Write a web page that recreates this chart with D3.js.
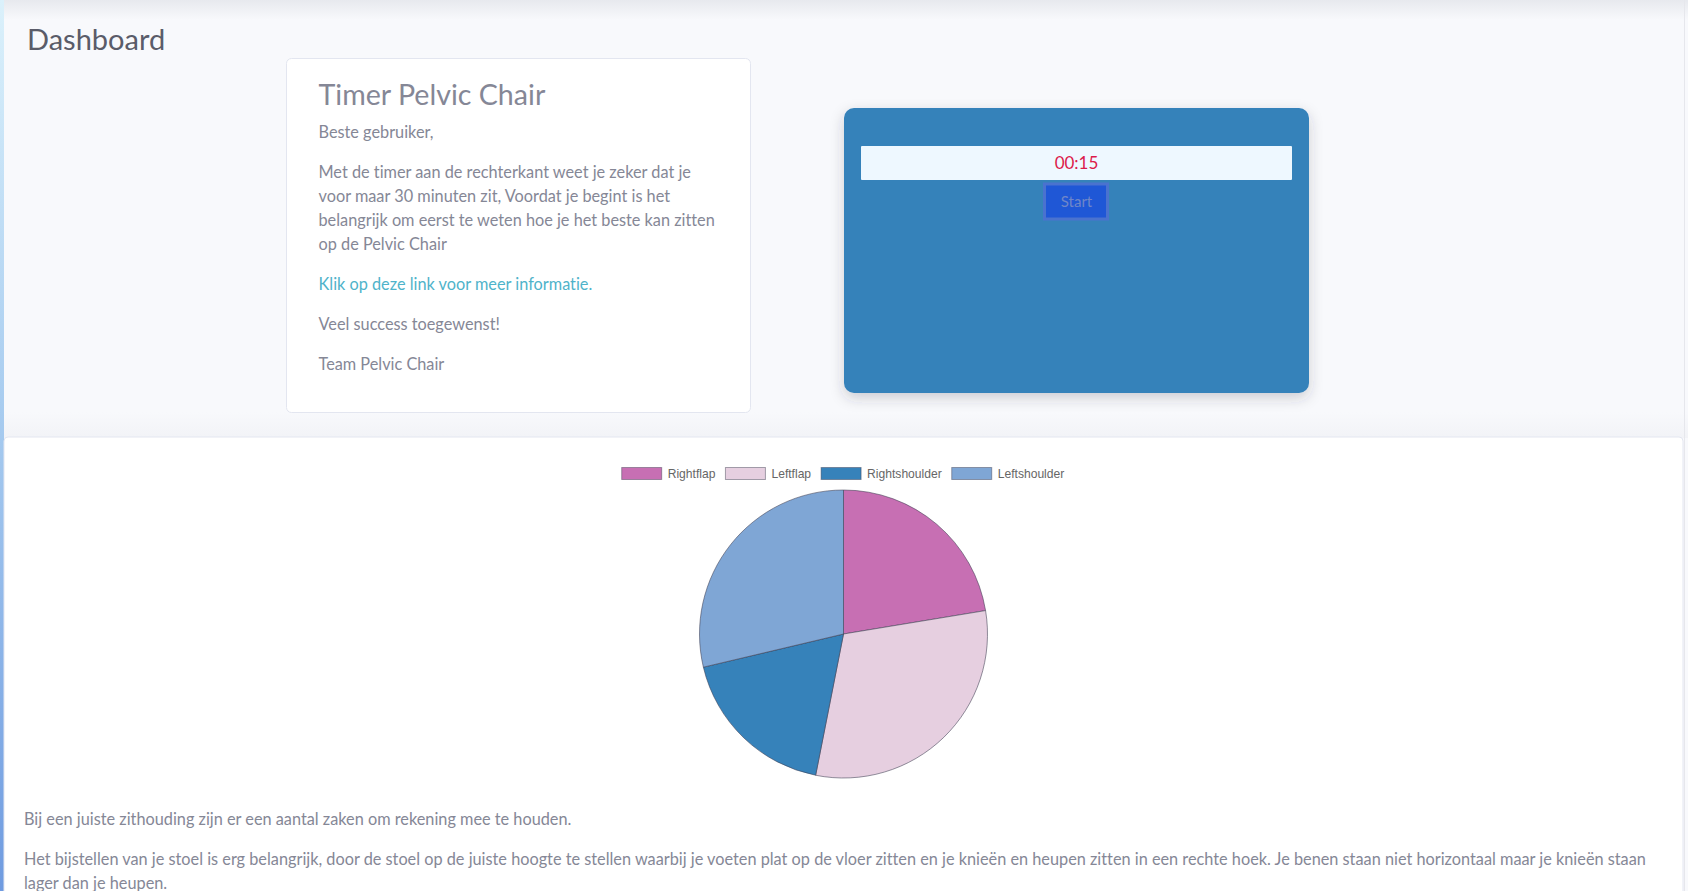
<!DOCTYPE html>
<html>
<head>
<meta charset="utf-8">
<title>Dashboard</title>
<script src="https://cdn.jsdelivr.net/npm/d3@7"></script>
<style>
html, body { margin: 0; padding: 0; background: #f8f9fc; overflow: hidden; }
svg { display: block; }
text { font-variant-ligatures: none; }
.tekst { font-family: Lato, "Noto Sans", sans-serif; font-size: 16.3px; fill: #858796; }
.kop { font-family: Lato, "Noto Sans", sans-serif; }
.legenda { font-family: "Liberation Sans", Arial, sans-serif; font-size: 12.1px; fill: #666; }
</style>
</head>
<body>
<script>
var categorieen = ["Rightflap", "Leftflap", "Rightshoulder", "Leftshoulder"];
var waarden = [22.4, 30.7, 18.2, 28.7];
var kleuren = ["#c76fb3", "#e6cfe0", "#3682ba", "#7fa6d5"];

var introRegels = [
	"Beste gebruiker,",
	"Met de timer aan de rechterkant weet je zeker dat je",
	"voor maar 30 minuten zit, Voordat je begint is het",
	"belangrijk om eerst te weten hoe je het beste kan zitten",
	"op de Pelvic Chair"
];
var slotRegels = ["Veel success toegewenst!", "Team Pelvic Chair"];
var onderRegels = [
	"Bij een juiste zithouding zijn er een aantal zaken om rekening mee te houden.",
	"Het bijstellen van je stoel is erg belangrijk, door de stoel op de juiste hoogte te stellen waarbij je voeten plat op de vloer zitten en je knieën en heupen zitten in een rechte hoek. Je benen staan niet horizontaal maar je knieën staan",
	"lager dan je heupen."
];

var breedte = 1688, hoogte = 891;
var svg = d3.select("body").append("svg").attr("width", breedte).attr("height", hoogte);
var defs = svg.append("defs");

function verloop(id, vertical, stops)
{
	var g = defs.append("linearGradient").attr("id", id)
		.attr("x1", 0).attr("y1", 0).attr("x2", vertical ? 0 : 1).attr("y2", vertical ? 1 : 0);
	stops.forEach(function(s) {
		g.append("stop").attr("offset", s[0]).attr("stop-color", s[1]);
	});
}

verloop("zijbalk", true, [[0, "#dbf1fb"], [0.45, "#a9cdf0"], [1, "#6f9be0"]]);
verloop("bovenrand", true, [[0, "#e7e9ee"], [1, "#f8f9fc"]]);
verloop("kaartrand", true, [[0, "#f8f9fc"], [1, "#f2f3f7"]]);

var schaduw = defs.append("filter").attr("id", "schaduw")
	.attr("x", "-10%").attr("y", "-10%").attr("width", "120%").attr("height", "125%");
schaduw.append("feDropShadow").attr("dx", 0).attr("dy", 5).attr("stdDeviation", 7)
	.attr("flood-color", "#3a3b45").attr("flood-opacity", 0.22);

// achtergrond
svg.append("rect").attr("width", breedte).attr("height", 20).attr("fill", "url(#bovenrand)");
svg.append("rect").attr("y", 412).attr("width", breedte).attr("height", 26).attr("fill", "url(#kaartrand)");
svg.append("rect").attr("width", 4).attr("height", hoogte).attr("fill", "url(#zijbalk)");

svg.append("text").attr("class", "kop").attr("x", 27).attr("y", 50)
	.style("font-size", "29px").style("fill", "#5a5c69").text("Dashboard");

// kaart met de tekst
svg.append("rect").attr("x", 286.5).attr("y", 58.5).attr("width", 464).attr("height", 354).attr("rx", 5)
	.attr("fill", "#fff").attr("stroke", "#e3e6f0");

svg.append("text").attr("class", "kop").attr("x", 318.5).attr("y", 105)
	.style("font-size", "28.6px").style("fill", "#858796").text("Timer Pelvic Chair");

var introY = [138, 178, 202, 226, 250];
svg.selectAll("text.intro").data(introRegels).enter().append("text")
	.attr("class", "tekst intro").attr("x", 318.5)
	.attr("y", function(d, i) { return introY[i]; })
	.text(function(d) { return d; });

svg.append("text").attr("class", "tekst").attr("x", 318.5).attr("y", 290)
	.style("fill", "#4fb3ca").text("Klik op deze link voor meer informatie.");

svg.selectAll("text.slot").data(slotRegels).enter().append("text")
	.attr("class", "tekst slot").attr("x", 318.5)
	.attr("y", function(d, i) { return 330 + i * 40; })
	.text(function(d) { return d; });

// timer
svg.append("rect").attr("x", 844).attr("y", 108).attr("width", 465).attr("height", 285).attr("rx", 10)
	.attr("fill", "#3682ba").attr("filter", "url(#schaduw)");
svg.append("rect").attr("x", 861).attr("y", 146).attr("width", 431).attr("height", 34).attr("rx", 1)
	.attr("fill", "#eef8ff");
svg.append("text").attr("class", "tekst").attr("x", 1076.5).attr("y", 168.5).attr("text-anchor", "middle")
	.style("font-size", "17px").style("fill", "#dc1a4a").text("00:15");
svg.append("rect").attr("x", 1044.5).attr("y", 184).attr("width", 63).attr("height", 35)
	.attr("fill", "#1f57d6").attr("stroke", "#4a72cf").attr("stroke-width", 3);
svg.append("text").attr("class", "tekst").attr("x", 1076.5).attr("y", 207).attr("text-anchor", "middle")
	.style("font-size", "15px").style("fill", "#6f86c8").text("Start");

// onderste kaart
svg.append("path").attr("d", "M4,891V441q0,-4 4,-4H1679q4,0 4,4V891")
	.attr("fill", "#fff").attr("stroke", "#e3e6f0");
svg.append("rect").attr("x", 1684).attr("y", 0).attr("width", 1).attr("height", hoogte).attr("fill", "#e6e7ec");

// taartdiagram
var pie = d3.pie().sort(null).value(function(d) { return d; });
var arc = d3.arc().innerRadius(0).outerRadius(144);
var taart = svg.append("g").attr("transform", "translate(843.5,634)");
taart.selectAll("path").data(pie(waarden)).enter().append("path")
	.attr("d", arc)
	.attr("fill", function(d, i) { return kleuren[i]; })
	.attr("stroke", "rgba(60,60,80,0.55)").attr("stroke-width", 1);

// legenda
var legenda = svg.append("g").attr("transform", "translate(0,467.5)");
var items = legenda.selectAll("g").data(categorieen).enter().append("g");
items.append("rect").attr("width", 40).attr("height", 12)
	.attr("fill", function(d, i) { return kleuren[i]; })
	.attr("stroke", "rgba(60,60,80,0.45)").attr("stroke-width", 1);
items.append("text").attr("class", "legenda").attr("x", 46).attr("y", 10)
	.text(function(d) { return d; });

var totaal = 0, startPos = [];
items.selectAll("text").each(function() {
	startPos.push(totaal);
	totaal += 46 + this.getComputedTextLength() + 10;
});
totaal -= 10;
items.attr("transform", function(d, i) { return "translate(" + (843 - totaal / 2 + startPos[i]) + ",0)"; });

// tekst onderaan
var onderY = [825, 865, 889];
svg.selectAll("text.onder").data(onderRegels).enter().append("text")
	.attr("class", "tekst onder").attr("x", 24)
	.attr("y", function(d, i) { return onderY[i]; })
	.text(function(d) { return d; });
</script>
</body>
</html>
